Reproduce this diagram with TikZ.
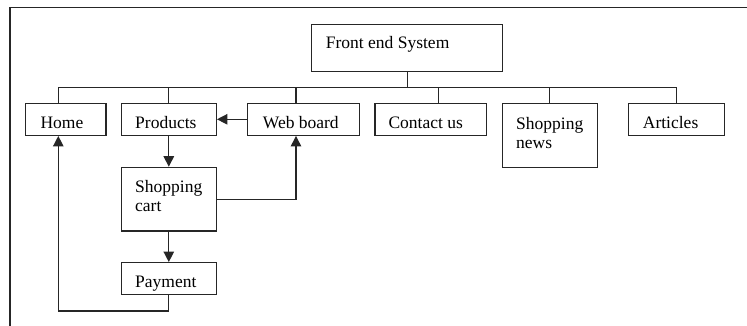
\documentclass[tikz,border=0pt]{standalone}
\usepackage{fontspec}
\setmainfont{Liberation Serif}
\usetikzlibrary{arrows.meta}
\begin{document}
\begin{tikzpicture}[x=1pt,y=-1pt,
  box/.style={draw=black!85, line width=1.3pt, rectangle, inner sep=0pt},
  lbl/.style={anchor=base west, inner sep=0pt, align=left, text=black,
    font=\fontsize{17.5}{19}\selectfont},
  conn/.style={draw=black!85, line width=1.3pt},
  arr/.style={conn, -{Triangle[length=10.5pt,width=10.5pt]}}]
\useasboundingbox (0,0) rectangle (747,326);
% frame
\draw[conn] (10,330) -- (10,7.5) -- (750,7.5);
% boxes
\node[box, minimum width=191pt, minimum height=47.4pt] (front) at (407.2,48) {};
\node[box, minimum width=80.3pt, minimum height=32pt] (home) at (65.9,119.3) {};
\node[box, minimum width=95pt, minimum height=32pt] (products) at (168.8,119.3) {};
\node[box, minimum width=112pt, minimum height=32pt] (web) at (303.3,119.3) {};
\node[box, minimum width=111.7pt, minimum height=32pt] (contact) at (430.9,119.3) {};
\node[box, minimum width=95pt, minimum height=64.4pt] (news) at (549.8,135.5) {};
\node[box, minimum width=96pt, minimum height=32pt] (articles) at (676.3,119.3) {};
\node[box, minimum width=95pt, minimum height=63.7pt] (cart) at (168.8,199.2) {};
\node[box, minimum width=95pt, minimum height=32pt] (payment) at (168.8,278.7) {};
% labels (base = last line)
\node[lbl] (front-t) at (325.7,48.3) {Front end System};
\node[lbl] (home-t) at (40.3,128.3) {Home};
\node[lbl] (products-t) at (135,128.3) {Products};
\node[lbl] (web-t) at (262.7,128.3) {Web board};
\node[lbl] (contact-t) at (388.3,128.3) {Contact us};
\node[lbl] (news-t) at (516,148.3) {Shopping\\news};
\node[lbl] (articles-t) at (642.7,128.3) {Articles};
\node[lbl] (cart-t) at (135,211) {Shopping\\cart};
\node[lbl] (payment-t) at (135,287.3) {Payment};
% bus
\coordinate (busL) at (58.3,87.7);
\coordinate (busR) at (676.7,87.7);
\coordinate (hometop) at ([xshift=-7.6pt]home.north);
\coordinate (homebot) at ([xshift=-7.6pt]home.south);
\coordinate (webtop) at ([xshift=-7.3pt]web.north);
\coordinate (webbot) at ([xshift=-7.3pt]web.south);
\coordinate (contacttop) at ([xshift=7.4pt]contact.north);
\draw[conn] (busL) -- (busR);
\draw[conn] (front.south) -- (front.south |- busL);
\draw[conn] (hometop) -- (hometop |- busL);
\draw[conn] (products.north) -- (products.north |- busL);
\draw[conn] (webtop) -- (webtop |- busL);
\draw[conn] (contacttop) -- (contacttop |- busL);
\draw[conn] (news.north) -- (news.north |- busL);
\draw[conn] (articles.north) -- (articles.north |- busL);
% arrows
\draw[arr] (web.west) -- (products.east);
\draw[arr] (products.south) -- (cart.north);
\draw[arr] (cart.south) -- (payment.north);
\draw[arr] (cart.east) -| (webbot);
\draw[arr] (payment.south) -- ++(0,15.6) -| (homebot);
\end{tikzpicture}
\end{document}
